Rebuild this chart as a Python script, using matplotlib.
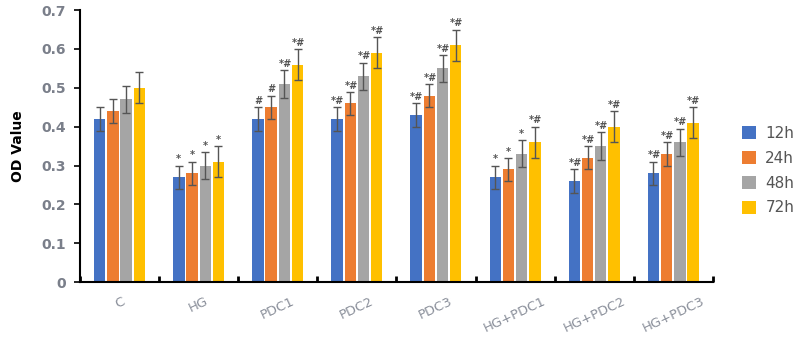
import numpy as np
import matplotlib.pyplot as plt

# groups and time points
groups = ["C", "HG", "PDC1", "PDC2", "PDC3", "HG+PDC1", "HG+PDC2", "HG+PDC3"]
times = ["12h", "24h", "48h", "72h"]
colors = ["#4472C4", "#ED7D31", "#A5A5A5", "#FFC000"]

# OD values per time point (one list per series)
od_12h = [0.42, 0.27, 0.42, 0.42, 0.43, 0.27, 0.26, 0.28]
od_24h = [0.44, 0.28, 0.45, 0.46, 0.48, 0.29, 0.32, 0.33]
od_48h = [0.47, 0.30, 0.51, 0.53, 0.55, 0.33, 0.35, 0.36]
od_72h = [0.50, 0.31, 0.56, 0.59, 0.61, 0.36, 0.40, 0.41]

err_12h = [0.03, 0.03, 0.03, 0.03, 0.03, 0.03, 0.03, 0.03]
err_24h = [0.03, 0.03, 0.03, 0.03, 0.03, 0.03, 0.03, 0.03]
err_48h = [0.035, 0.035, 0.035, 0.035, 0.035, 0.035, 0.035, 0.035]
err_72h = [0.04, 0.04, 0.04, 0.04, 0.04, 0.04, 0.04, 0.04]

# significance marks
sig_12h = ["", "*", "#", "*#", "*#", "*", "*#", "*#"]
sig_24h = ["", "*", "#", "*#", "*#", "*", "*#", "*#"]
sig_48h = ["", "*", "*#", "*#", "*#", "*", "*#", "*#"]
sig_72h = ["", "*", "*#", "*#", "*#", "*#", "*#", "*#"]

series = [od_12h, od_24h, od_48h, od_72h]
errs = [err_12h, err_24h, err_48h, err_72h]
sigs = [sig_12h, sig_24h, sig_48h, sig_72h]

fig = plt.figure(figsize=(8, 3.37), dpi=100)
ax = fig.add_axes([0.1, 0.163, 0.791, 0.807])

x = np.arange(len(groups)) + 0.5
slot = 0.167
bw = 0.145
for i in range(4):
    pos = x + (i - 1.5) * slot
    ax.bar(pos, series[i], bw, color=colors[i], label=times[i], zorder=2)
    ax.errorbar(pos, series[i], yerr=errs[i], fmt="none", ecolor="#555555",
                elinewidth=1, capsize=3, capthick=1, zorder=3)
    for p, v, e, s in zip(pos, series[i], errs[i], sigs[i]):
        if s:
            ax.text(p, v + e + 0.003, s, ha="center", va="bottom", fontsize=7,
                    style="italic", fontweight="bold", color="#555555")

ax.set_xlim(0, len(groups))
ax.set_ylim(0, 0.7)
ax.set_yticks(np.arange(0, 0.71, 0.1))
ax.set_yticklabels(["0", "0.1", "0.2", "0.3", "0.4", "0.5", "0.6", "0.7"],
                   fontsize=10, fontweight="bold", color="#7a7f8a")
ax.tick_params(axis="y", direction="out", length=4, width=1.2, pad=6)

# boundary ticks on the axis, labels at group centres
ax.set_xticks(np.arange(len(groups) + 1))
ax.set_xticklabels([])
ax.tick_params(axis="x", which="major", direction="in", length=4, width=2)
ax.set_xticks(x, minor=True)
ax.set_xticklabels(groups, minor=True, rotation=25, fontsize=9.5,
                   color="#8a8f9a", ha="center")
ax.tick_params(axis="x", which="minor", length=0, pad=9)

for sp in ["top", "right"]:
    ax.spines[sp].set_visible(False)
ax.spines["left"].set_linewidth(1.5)
ax.spines["bottom"].set_linewidth(1.5)

ax.set_ylabel("OD Value", fontsize=10, fontweight="bold", labelpad=12)

leg = ax.legend(loc="center left", bbox_to_anchor=(1.025, 0.41), frameon=False,
                fontsize=11, handlelength=0.9, handleheight=0.9,
                labelspacing=0.65, handletextpad=0.6)
for t in leg.get_texts():
    t.set_color("#555555")

fig.savefig("out.png", dpi=100)
